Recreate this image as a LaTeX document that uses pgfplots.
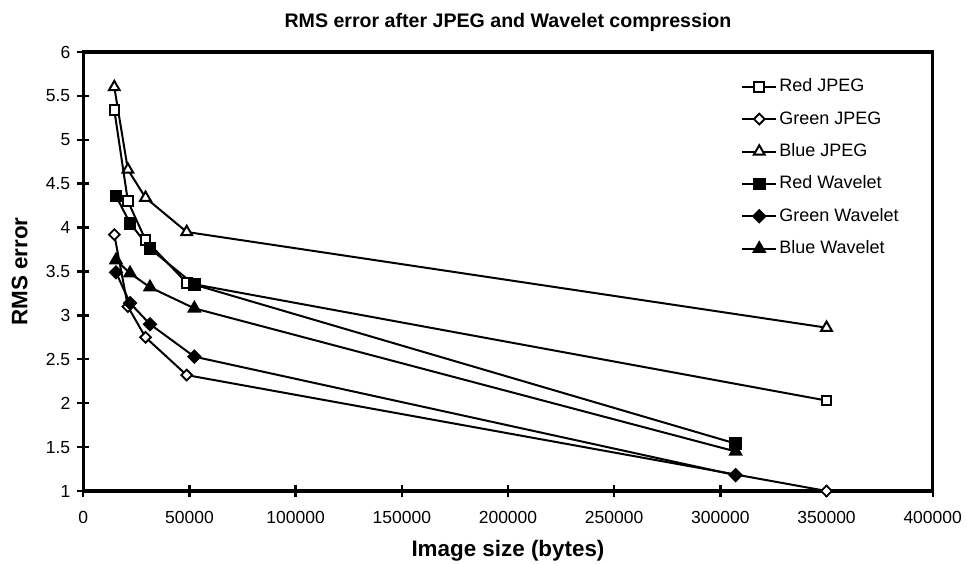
\documentclass[border=0pt]{standalone}
\usepackage{pgfplots}
\pgfplotsset{compat=1.18}
\usepackage{fontspec}
\setmainfont{Liberation Sans}

\begin{document}
\begin{tikzpicture}
\begin{axis}[
    name=ax,
    scale only axis,
    width=424.7pt, height=219.5pt,
    xmin=0, xmax=400000,
    ymin=1, ymax=6,
    xtick={0,50000,...,400000},
    ytick={1,1.5,...,6},
    scaled x ticks=false,
    xticklabel style={/pgf/number format/1000 sep={}, /pgf/number format/fixed, yshift=-3.5pt},
    yticklabel style={/pgf/number format/fixed},
    /pgf/number format/assume math mode=true,
    tick label style={font=\fontsize{8.75}{10}\selectfont},
    xtick pos=left, ytick pos=left,
    tick align=center,
    major tick length=6pt,
    axis line style={line width=1.6pt},
    every tick/.style={black, line width=1.2pt},
    clip=false,
    title={RMS error after JPEG and Wavelet compression},
    title style={font=\fontsize{9.8}{12}\bfseries, at={(axis description cs:0.5,1)}, anchor=center, yshift=9pt},
    xlabel={Image size (bytes)},
    xlabel style={font=\fontsize{11.2}{13}\bfseries, at={(axis description cs:0.5,0)}, anchor=center, yshift=-30pt},
    ylabel={RMS error},
    ylabel style={font=\fontsize{11.2}{13}\bfseries, at={(axis description cs:-0.075,0.5)}, anchor=center},
    legend style={at={(0.767,0.956)}, anchor=north west, draw=none, fill=none,
        font=\fontsize{9}{10}\selectfont, row sep=5.2pt,
        nodes={text height=7pt, text depth=2pt, inner sep=1pt}},
    legend cell align=left,
    every axis plot/.append style={black, line width=1pt},
]

% JPEG
\addplot[mark=square*, mark size=2.4pt, mark options={fill=white, line width=1pt}]
  coordinates {(14600,5.34) (21000,4.30) (29300,3.86) (48700,3.37) (350000,2.03)};
\addlegendentry{Red JPEG}
\addplot[mark=square*, mark size=1.9pt, mark options={fill=white, line width=0.9pt, rotate=45}]
  coordinates {(14600,3.92) (21000,3.10) (29300,2.75) (48700,2.32) (350000,1.00)};
\addlegendentry{Green JPEG}
\addplot[mark=triangle*, mark size=3.1pt, mark options={fill=white, line width=1pt}]
  coordinates {(14600,5.60) (21000,4.66) (29300,4.34) (48700,3.95) (350000,2.86)};
\addlegendentry{Blue JPEG}

% Wavelet
\addplot[mark=square*, mark size=2.7pt, mark options={fill=black}]
  coordinates {(15400,4.36) (22000,4.05) (31400,3.76) (52300,3.35) (307200,1.54)};
\addlegendentry{Red Wavelet}
\addplot[mark=square*, mark size=2.1pt, mark options={fill=black, rotate=45}]
  coordinates {(15400,3.49) (22000,3.14) (31400,2.90) (52300,2.53) (307200,1.18)};
\addlegendentry{Green Wavelet}
\addplot[mark=triangle*, mark size=3.2pt, mark options={fill=black}]
  coordinates {(15400,3.63) (22000,3.48) (31400,3.32) (52300,3.08) (307200,1.45)};
\addlegendentry{Blue Wavelet}

\end{axis}
\pgfresetboundingbox
\path[use as bounding box] ([xshift=-41.65pt,yshift=-36.5pt]ax.south west) rectangle ([xshift=17.15pt,yshift=26pt]ax.north east);
\end{tikzpicture}
\end{document}
